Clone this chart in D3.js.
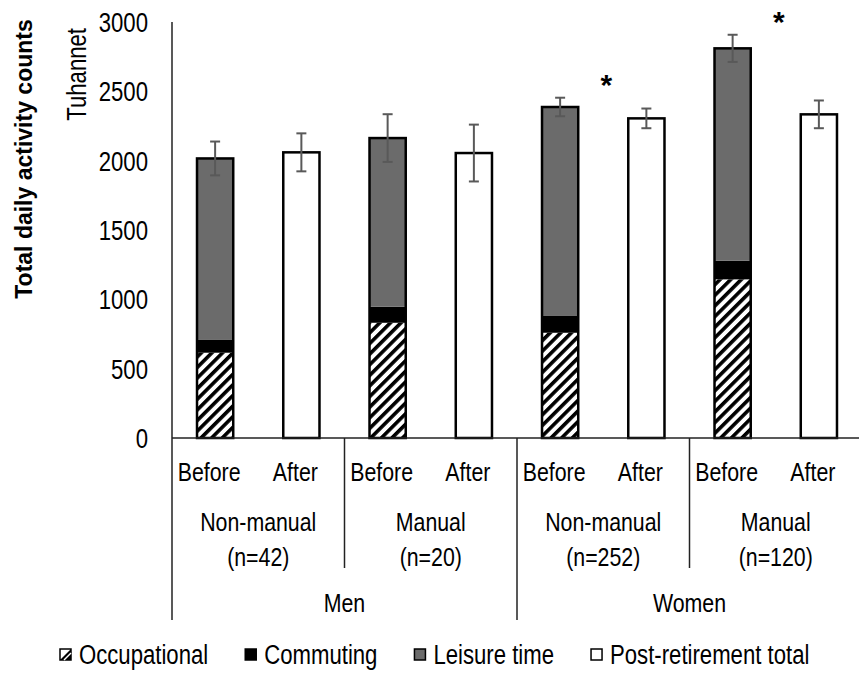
<!DOCTYPE html>
<html>
<head>
<meta charset="utf-8">
<script src="https://cdn.jsdelivr.net/npm/d3@7"></script>
<style>
body { margin: 0; background: #fff; }
text { font-family: "Liberation Sans Narrow", "Arial Narrow", "Liberation Sans", Arial, sans-serif; fill: #000; }
</style>
</head>
<body>
<svg id="chart" width="859" height="673"></svg>
<script>
"use strict"

// groups on the x axis
var sexes = ["Men", "Women"];
var jobs = ["Non-manual", "Manual", "Non-manual", "Manual"];
var sizes = ["(n=42)", "(n=20)", "(n=252)", "(n=120)"];
var periods = ["Before", "After"];

// before retirement (stacked parts)
var occupational = [615, 831, 759, 1144];
var commuting = [92, 116, 121, 134];
var leisure = [1309, 1216, 1507, 1532];
var beforeErr = [122, 172, 67, 98];

// after retirement
var postTotal = [2060, 2055, 2305, 2334];
var afterErr = [137, 205, 71, 100];

var significant = [false, false, true, true];

var yTicks = [0, 500, 1000, 1500, 2000, 2500, 3000];

var legendNames = ["Occupational", "Commuting", "Leisure time", "Post-retirement total"];


var svg = d3.select("#chart");
var grey = "#6b6b6b";
var errColor = "#595959";

// squeeze regular sans into arial-narrow widths
function narrow(sel) {
    sel.each(function() {
        var len = this.getComputedTextLength();
        d3.select(this)
            .attr("textLength", len * 0.82)
            .attr("lengthAdjust", "spacingAndGlyphs");
    });
    return sel;
}

// hatch for occupational part
var defs = svg.append("defs");
var hatch = defs.append("pattern")
    .attr("id", "hatch")
    .attr("patternUnits", "userSpaceOnUse")
    .attr("width", 7.5)
    .attr("height", 7.5)
    .attr("patternTransform", "rotate(45)");
hatch.append("rect").attr("width", 7.5).attr("height", 7.5).attr("fill", "#fff");
hatch.append("rect").attr("width", 3.6).attr("height", 7.5).attr("fill", "#000");

// slots: one per bar
var slots = [];
jobs.forEach(function(job, i) {
    periods.forEach(function(p) {
        slots.push(i + "-" + p);
    });
});

var x = d3.scaleBand()
    .domain(slots)
    .range([172, 862])
    .paddingInner(0.58)
    .paddingOuter(0.29);

var y = d3.scaleLinear()
    .domain([0, 3000])
    .range([438, 22]);

var half = (x.step() - x.bandwidth()) / 2;
function groupLeft(i) {
    return x(i + "-Before") - half;
}
function groupRight(i) {
    return x(i + "-After") + x.bandwidth() + half;
}

// y axis labels
var yAxis = svg.append("g")
    .attr("transform", "translate(172,0)")
    .call(d3.axisLeft(y).tickValues(yTicks).tickFormat(d3.format("d")).tickSize(0).tickPadding(24));
yAxis.select(".domain").remove();
yAxis.selectAll("text")
    .style("font-family", "'Liberation Sans', Arial, sans-serif")
    .style("font-size", "27px")
    .attr("dy", "0.35em")
    .call(narrow);

svg.append("text")
    .attr("transform", "translate(32,159) rotate(-90)")
    .attr("text-anchor", "middle")
    .style("font-family", "'Liberation Sans', Arial, sans-serif")
    .style("font-weight", "bold")
    .style("font-size", "23px")
    .text("Total daily activity counts");

svg.append("text")
    .attr("transform", "translate(86,28) rotate(-90)")
    .attr("text-anchor", "end")
    .style("font-size", "27px")
    .text("Tuhannet")
    .call(narrow);

// stacked bars before retirement
var rows = jobs.map(function(j, i) {
    return { key: i + "-Before", occ: occupational[i], comm: commuting[i], leis: leisure[i] };
});
var stack = d3.stack().keys(["occ", "comm", "leis"])(rows);
var fills = { occ: "url(#hatch)", comm: "#000", leis: grey };

stack.forEach(function(layer) {
    svg.append("g").selectAll("rect")
        .data(layer)
        .enter()
        .append("rect")
        .attr("x", function(d) { return x(d.data.key); })
        .attr("width", x.bandwidth())
        .attr("y", function(d) { return y(d[1]); })
        .attr("height", function(d) { return y(d[0]) - y(d[1]); })
        .attr("fill", fills[layer.key]);
});

var beforeTotals = rows.map(function(r) { return r.occ + r.comm + r.leis; });

// outline of each before bar
svg.append("g").selectAll("rect")
    .data(rows)
    .enter()
    .append("rect")
    .attr("x", function(d) { return x(d.key); })
    .attr("width", x.bandwidth())
    .attr("y", function(d, i) { return y(beforeTotals[i]); })
    .attr("height", function(d, i) { return y(0) - y(beforeTotals[i]); })
    .attr("fill", "none")
    .attr("stroke", "#000")
    .attr("stroke-width", 2.5);

// after bars
svg.append("g").selectAll("rect")
    .data(postTotal)
    .enter()
    .append("rect")
    .attr("x", function(d, i) { return x(i + "-After"); })
    .attr("width", x.bandwidth())
    .attr("y", function(d) { return y(d); })
    .attr("height", function(d) { return y(0) - y(d); })
    .attr("fill", "#fff")
    .attr("stroke", "#000")
    .attr("stroke-width", 2.5);

// error bars
var errs = [];
jobs.forEach(function(j, i) {
    errs.push({ key: i + "-Before", v: beforeTotals[i], e: beforeErr[i] });
    errs.push({ key: i + "-After", v: postTotal[i], e: afterErr[i] });
});
var eg = svg.append("g").attr("stroke", errColor).attr("stroke-width", 2);
errs.forEach(function(d) {
    var cx = x(d.key) + x.bandwidth() / 2;
    eg.append("line").attr("x1", cx).attr("x2", cx).attr("y1", y(d.v - d.e)).attr("y2", y(d.v + d.e));
    eg.append("line").attr("x1", cx - 5).attr("x2", cx + 5).attr("y1", y(d.v - d.e)).attr("y2", y(d.v - d.e));
    eg.append("line").attr("x1", cx - 5).attr("x2", cx + 5).attr("y1", y(d.v + d.e)).attr("y2", y(d.v + d.e));
});

// significance stars
significant.forEach(function(s, i) {
    if (!s) return;
    var top = Math.max(beforeTotals[i] + beforeErr[i], postTotal[i] + afterErr[i]);
    svg.append("text")
        .attr("x", (groupLeft(i) + groupRight(i)) / 2 + 3)
        .attr("y", y(top) - 3)
        .attr("text-anchor", "middle")
        .style("font-family", "'Liberation Sans', Arial, sans-serif")
        .style("font-weight", "bold")
        .style("font-size", "30px")
        .text("*");
});

// axis lines
var axisG = svg.append("g").attr("stroke", "#222").attr("stroke-width", 1.5);
axisG.append("line").attr("x1", 172).attr("x2", 172).attr("y1", y(3000)).attr("y2", 620);
axisG.append("line").attr("x1", 172).attr("x2", 862).attr("y1", y(0)).attr("y2", y(0));
jobs.forEach(function(j, i) {
    if (i == 0) return;
    var gx = groupLeft(i);
    axisG.append("line").attr("x1", gx).attr("x2", gx).attr("y1", y(0)).attr("y2", i % 2 ? 568 : 620);
});

// category labels
slots.forEach(function(s) {
    svg.append("text")
        .attr("x", x(s) + x.bandwidth() / 2 - 6)
        .attr("y", 481)
        .attr("text-anchor", "middle")
        .style("font-size", "26px")
        .text(s.split("-")[1])
        .call(narrow);
});
jobs.forEach(function(j, i) {
    var cx = (groupLeft(i) + groupRight(i)) / 2;
    svg.append("text").attr("x", cx).attr("y", 531).attr("text-anchor", "middle")
        .style("font-size", "26px").text(j).call(narrow);
    svg.append("text").attr("x", cx).attr("y", 566).attr("text-anchor", "middle")
        .style("font-size", "26px").text(sizes[i]).call(narrow);
});
sexes.forEach(function(s, k) {
    var cx = (groupLeft(k * 2) + groupRight(k * 2 + 1)) / 2;
    svg.append("text").attr("x", cx).attr("y", 612).attr("text-anchor", "middle")
        .style("font-size", "26px").text(s).call(narrow);
});

// legend
var legendFills = ["#fff", "#000", grey, "#fff"];
var lx = 60;
var ly = 655;
legendNames.forEach(function(name, i) {
    var g = svg.append("g").attr("transform", "translate(" + lx + "," + (ly - 6) + ")");
    g.append("rect").attr("width", 11).attr("height", 11)
        .attr("fill", legendFills[i]).attr("stroke", "#000").attr("stroke-width", 1.5);
    if (i == 0) {
        g.append("path").attr("d", "M11,0 L11,11 L0,11 Z").attr("fill", "#000");
        g.append("path").attr("d", "M4,11 L11,4").attr("stroke", "#fff").attr("stroke-width", 1.5);
    }
    var t = svg.append("text")
        .attr("x", lx + 19)
        .attr("y", ly + 9)
        .style("font-size", "27px")
        .text(name)
        .call(narrow);
    lx += 19 + +t.attr("textLength") + 37;
});
</script>
</body>
</html>
